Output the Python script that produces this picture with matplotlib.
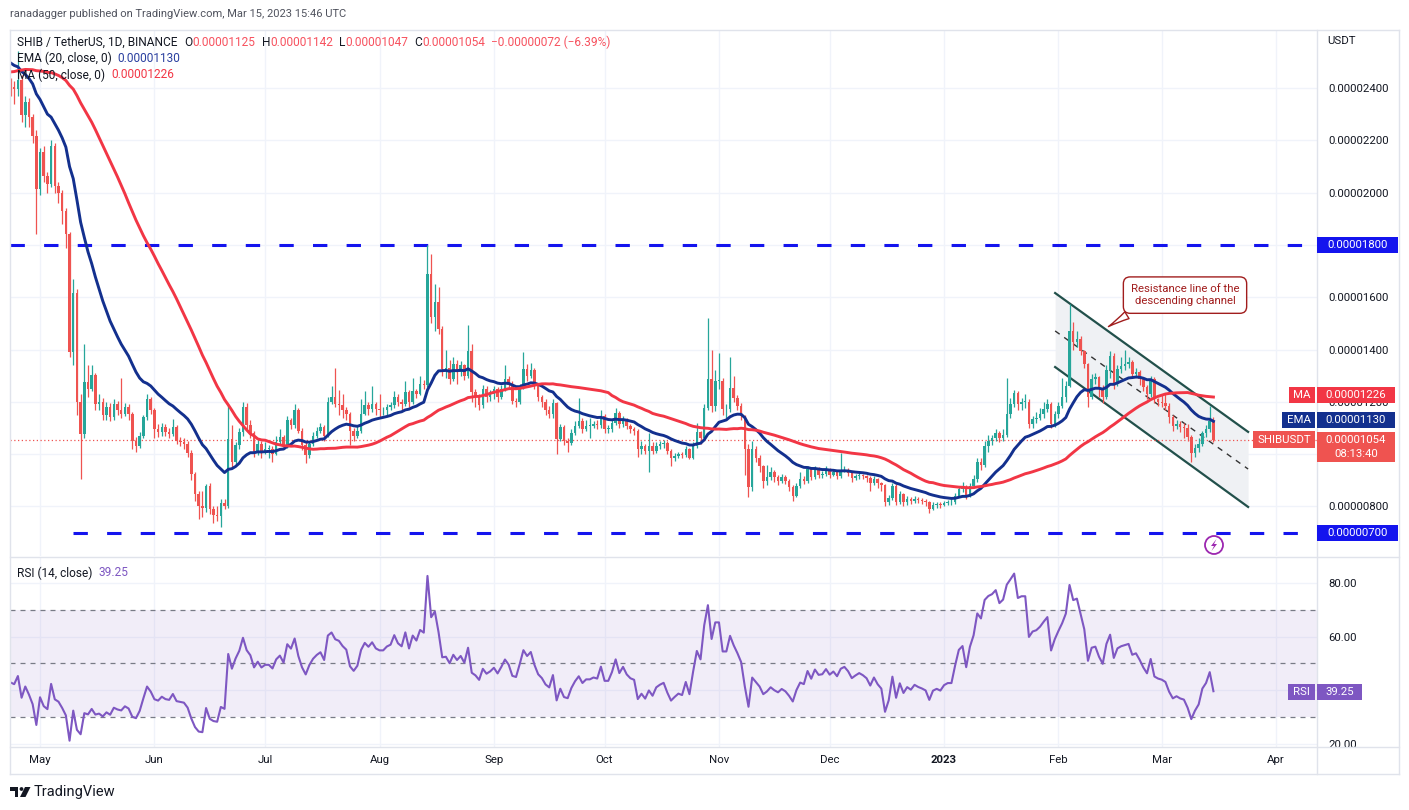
import numpy as np
import matplotlib
matplotlib.use("Agg")
from matplotlib import pyplot as plt
from matplotlib.patches import Rectangle, Polygon, Circle
from matplotlib.lines import Line2D
from matplotlib.transforms import IdentityTransform

plt.rcParams['font.family'] = ['Roboto', 'DejaVu Sans']

W, H = 1409, 810
UNIT = 1e-8  # prices are kept in units of 0.00000001 USDT

start_date = np.datetime64('2022-04-23')
first_open = 2420

# closes before the visible window, only used to warm up EMA / MA / RSI
warmup_closes = [2300, 2330, 2250, 2190, 2220, 2320, 2240, 2200, 2210, 2150,
                 2220, 2210, 2280, 2300, 2350, 2380, 2330, 2330, 2420, 2480,
                 2500, 2500, 2520, 2620, 2700, 2680, 2660, 2650, 2700, 2680,
                 2750, 2800, 2880, 2700, 2690, 2580, 2600, 2560, 2400, 2450,
                 2500, 2420, 2450, 2440, 2400, 2450, 2550, 2520, 2480, 2430]

closes = [
    2405, 2395, 2430, 2295, 2345, 2290, 2218, 2013,
    2154, 2064, 2032, 2180, 2026, 2000, 1930, 1840, 1391, 1615, 1199, 1077, 1276, 1250, 1301,
    1192, 1200, 1148, 1180, 1141, 1192, 1167, 1154, 1180, 1154, 1051, 1032, 1071, 1141, 1212, 1167,
    1096, 1083, 1103, 1083, 1077, 1103, 1051, 1045, 1040, 1006, 923, 846, 801, 795, 878,
    789, 769, 763, 814, 801, 1058, 969, 1033, 1084, 1180, 1110, 1080, 1005, 1040, 1005,
    1020, 1020, 1001, 1046, 1065, 1033, 1129, 1110, 1167, 1090, 1033, 995, 1040, 1071, 1090,
    1103, 1071, 1199, 1218, 1192, 1186, 1167, 1154, 1090, 1071, 1090, 1154, 1186, 1173, 1192, 1173,
    1167, 1167, 1180, 1186, 1218, 1199, 1192, 1237, 1199, 1243, 1231, 1269, 1263, 1689, 1524,
    1581, 1479, 1326, 1330, 1288, 1345, 1313, 1339, 1300, 1396, 1237, 1218, 1186, 1250, 1218, 1231,
    1250, 1218, 1250, 1288, 1263, 1205, 1199, 1256, 1326, 1300, 1320, 1263, 1218, 1199, 1167,
    1152, 1197, 1057, 1103, 1051, 1044, 1082, 1108, 1127, 1095, 1108, 1108, 1114, 1110, 1146,
    1095, 1095, 1120, 1159, 1114, 1133, 1108, 1095, 1090, 1019, 1032, 1013, 1032, 1013, 1032,
    1038, 1042, 1013, 987, 994, 1000, 996, 1019, 987, 1032, 1083, 1063, 1178, 1286, 1184, 1280,
    1280, 1171, 1171, 1254, 1216, 1184, 1146, 1019, 873, 1019, 987, 955, 898, 911, 930,
    911, 898, 911, 898, 873, 841, 879, 905, 898, 943, 911, 943, 922, 924, 940,
    921, 930, 915, 935, 940, 928, 909, 915, 920, 915, 908, 891, 905, 890, 880,
    815, 834, 879, 815, 847, 815, 828, 820, 830, 824, 820, 815, 790, 805, 808, 804,
    812, 815, 815, 840, 866, 873, 840, 878, 904, 968, 960, 1032, 1051, 1060, 1080,
    1060, 1075, 1153, 1190, 1235, 1190, 1200, 1200, 1114, 1135, 1140, 1153, 1172, 1190, 1114, 1153,
    1185, 1217, 1262, 1472, 1428, 1440, 1395, 1345, 1217, 1287, 1293, 1249, 1217, 1320,
    1377, 1268, 1325, 1338, 1345, 1351, 1306, 1313, 1287, 1255, 1230, 1287, 1210, 1200,
    1195, 1185, 1141, 1109, 1115, 1105, 1100, 1064, 1005, 1025, 1040, 1080, 1095, 1125, 1054,
]

highs = [
    2440, 2425, 2540, 2450, 2370, 2360, 2300, 2240,
    2170, 2180, 2080, 2200, 2190, 2040, 2010, 1940, 1850, 1670, 1630, 1230, 1420, 1340, 1340,
    1310, 1230, 1215, 1200, 1195, 1210, 1205, 1290, 1195, 1190, 1160, 1065, 1085, 1150, 1230, 1220,
    1175, 1115, 1120, 1115, 1100, 1135, 1110, 1065, 1060, 1050, 1015, 930, 860, 860, 885,
    890, 800, 800, 830, 830, 1190, 1110, 1045, 1100, 1200, 1195, 1130, 1090, 1055, 1050,
    1045, 1035, 1030, 1070, 1095, 1075, 1145, 1140, 1190, 1175, 1100, 1045, 1050, 1085, 1105,
    1120, 1110, 1220, 1260, 1330, 1245, 1230, 1180, 1160, 1100, 1110, 1210, 1240, 1200, 1260, 1200,
    1230, 1180, 1190, 1200, 1240, 1230, 1210, 1280, 1245, 1290, 1250, 1300, 1285, 1800, 1765,
    1650, 1640, 1490, 1400, 1360, 1370, 1360, 1355, 1345, 1495, 1420, 1250, 1230, 1265, 1260, 1245,
    1260, 1255, 1265, 1340, 1300, 1280, 1215, 1270, 1390, 1345, 1350, 1330, 1270, 1225, 1210,
    1185, 1210, 1200, 1115, 1110, 1060, 1095, 1125, 1215, 1140, 1130, 1140, 1125, 1130, 1170,
    1155, 1110, 1135, 1175, 1165, 1145, 1140, 1115, 1105, 1095, 1050, 1040, 1080, 1045, 1045,
    1050, 1055, 1050, 1020, 1005, 1010, 1008, 1030, 1025, 1045, 1120, 1090, 1190, 1520, 1400, 1320,
    1385, 1290, 1190, 1370, 1300, 1225, 1195, 1150, 1040, 1050, 1030, 995, 960, 960, 950,
    940, 920, 925, 920, 905, 880, 890, 930, 915, 955, 950, 955, 950, 935, 955,
    945, 940, 935, 1005, 955, 945, 935, 925, 930, 925, 920, 915, 915, 910, 895,
    885, 845, 890, 885, 860, 850, 840, 835, 840, 836, 832, 828, 820, 815, 815, 815,
    820, 825, 830, 850, 875, 895, 880, 890, 920, 985, 985, 1050, 1075, 1075, 1095,
    1090, 1095, 1290, 1215, 1245, 1240, 1215, 1230, 1210, 1145, 1160, 1175, 1200, 1210, 1200, 1165,
    1200, 1290, 1280, 1575, 1505, 1470, 1450, 1400, 1350, 1305, 1310, 1300, 1265, 1340,
    1395, 1385, 1340, 1370, 1400, 1370, 1360, 1330, 1320, 1295, 1265, 1300, 1295, 1215,
    1225, 1230, 1195, 1150, 1130, 1125, 1120, 1115, 1075, 1040, 1060, 1090, 1110, 1185, 1142,
]

lows = [
    2370, 2340, 2370, 2270, 2250, 2250, 2190, 1840,
    1990, 2040, 2000, 2020, 2000, 1960, 1880, 1790, 1370, 1340, 1150, 904, 1060, 1220, 1240,
    1170, 1170, 1130, 1130, 1125, 1130, 1150, 1140, 1145, 1130, 1020, 1010, 1025, 1060, 1130, 1155,
    1060, 1065, 1070, 1070, 1060, 1070, 1040, 1030, 1020, 990, 900, 820, 750, 760, 780,
    770, 735, 745, 720, 790, 795, 950, 960, 1020, 1070, 1095, 1060, 990, 995, 985,
    1000, 985, 970, 995, 1040, 1020, 1025, 1095, 1100, 1080, 1015, 965, 985, 1030, 1060,
    1080, 1050, 1065, 1190, 1180, 1150, 1140, 1130, 1035, 1050, 1060, 1080, 1150, 1150, 1160, 1150,
    1140, 1150, 1150, 1170, 1175, 1185, 1170, 1185, 1180, 1190, 1215, 1225, 1250, 1255, 1500,
    1470, 1460, 1300, 1290, 1270, 1280, 1270, 1300, 1285, 1290, 1200, 1180, 1170, 1175, 1200, 1205,
    1210, 1200, 1210, 1240, 1250, 1190, 1180, 1190, 1250, 1280, 1290, 1250, 1205, 1180, 1150,
    1140, 1140, 1000, 1050, 1035, 1010, 1035, 1075, 1100, 1080, 1090, 1060, 1100, 1095, 1100,
    1080, 1080, 1085, 1110, 1100, 1105, 1095, 1080, 1075, 990, 1000, 1000, 930, 1000, 1005,
    1020, 1025, 1000, 955, 975, 985, 985, 990, 980, 980, 1025, 1040, 1055, 1170, 1160, 1165,
    1250, 1150, 1140, 1160, 1200, 1170, 1130, 920, 835, 860, 970, 930, 870, 880, 900,
    895, 880, 890, 885, 860, 820, 835, 870, 885, 890, 900, 905, 910, 910, 915,
    910, 915, 905, 910, 930, 915, 895, 900, 905, 905, 895, 860, 880, 870, 860,
    800, 805, 825, 805, 810, 800, 805, 810, 812, 812, 808, 800, 775, 785, 795, 795,
    800, 805, 805, 810, 835, 855, 830, 835, 870, 895, 940, 950, 1010, 1035, 1050,
    1045, 1050, 1065, 1140, 1180, 1170, 1170, 1175, 1100, 1100, 1120, 1130, 1140, 1160, 1100, 1105,
    1140, 1175, 1200, 1255, 1400, 1410, 1380, 1330, 1180, 1210, 1270, 1220, 1195, 1210,
    1290, 1250, 1260, 1310, 1320, 1330, 1290, 1295, 1265, 1240, 1210, 1220, 1195, 1185,
    1180, 1170, 1120, 1090, 1095, 1085, 1060, 1050, 968, 990, 1010, 1030, 1065, 1085, 1047,
]

month_names = ['May', 'Jun', 'Jul', 'Aug', 'Sep', 'Oct', 'Nov', 'Dec', '2023', 'Feb', 'Mar', 'Apr']
month_firsts = np.array(['2022-05-01', '2022-06-01', '2022-07-01', '2022-08-01', '2022-09-01',
                         '2022-10-01', '2022-11-01', '2022-12-01', '2023-01-01', '2023-02-01',
                         '2023-03-01', '2023-04-01'], dtype='datetime64[D]')

price_ticks = [800, 1000, 1200, 1400, 1600, 1800, 2000, 2200, 2400]
hidden_price_labels = [1000, 1800]   # covered by tags on the price scale
rsi_ticks = [20, 40, 60, 80]
support_level = 700
resistance_level = 1800
ema_last, ma_last, rsi_last = 1130, 1226, 39.25

# descending channel drawn on the chart: (day index, price)
channel_days = [283.1, 335.4]
channel_upper = [1616, 1085]
channel_mid = [1471, 943]
channel_lower = [1333, 798]

UP, DOWN = '#26a69a', '#ef5350'
EMA_C, MA_C = '#13308e', '#f23645'
BLUE, RSI_C = '#1414ee', '#7e57c2'
TEXT, GRID, BORDER = '#131722', '#f0f3fa', '#e0e3eb'
NOTE_C = '#a11d1d'


def ema(x, n):
    a = 2.0 / (n + 1)
    out = np.empty_like(x)
    out[0] = x[0]
    for i in range(1, len(x)):
        out[i] = a * x[i] + (1 - a) * out[i - 1]
    return out


def sma(x, n):
    out = np.full(len(x), np.nan)
    out[n - 1:] = np.convolve(x, np.ones(n) / n, mode='valid')
    return out


def rsi(x, n=14):
    diff = np.diff(x)
    gain = np.clip(diff, 0, None)
    loss = np.clip(-diff, 0, None)
    ag, al = gain[:n].mean(), loss[:n].mean()
    out = np.full(len(x), np.nan)
    out[n] = 100 - 100 / (1 + ag / al)
    for i in range(n, len(diff)):
        ag = (ag * (n - 1) + gain[i]) / n
        al = (al * (n - 1) + loss[i]) / n
        out[i + 1] = 100 - 100 / (1 + ag / al)
    return out


allc = np.array(warmup_closes + closes, float)
n0 = len(warmup_closes)
ema20 = ema(allc, 20)[n0:]
ma50 = sma(allc, 50)[n0:]
rsi14 = rsi(allc, 14)[n0:]

c = np.array(closes, float)
o = np.r_[first_open, c[:-1]]
hi = np.array(highs, float)
lo = np.array(lows, float)
days = np.arange(len(c))
cols = np.where(c >= o, UP, DOWN)
month_pos = (month_firsts - start_date).astype(int)


def rect(l, t, r, b):
    return [l / W, 1 - b / H, (r - l) / W, (b - t) / H]


fig = plt.figure(figsize=(W / 100, H / 100), dpi=100)
ax = fig.add_axes(rect(10, 30, 1317, 556))
axr = fig.add_axes(rect(10, 557, 1317, 747))
ID = IdentityTransform()

x_left, x_right = -0.14, 354.07
for a in (ax, axr):
    a.set_xlim(x_left, x_right)
    a.set_xticks(month_pos)
    a.grid(True, color=GRID, lw=1)
    a.set_axisbelow(True)
    for s in a.spines.values():
        s.set_visible(False)
    a.yaxis.tick_right()
    a.tick_params(axis='both', length=0, labelsize=8.2, colors=TEXT)
ax.tick_params(axis='x', labelbottom=False)
ax.set_ylim(610.4, 2621.8)
ax.set_yticks(price_ticks)
ax.set_yticklabels(['' if v in hidden_price_labels else '%.8f' % (v * UNIT) for v in price_ticks])
ax.tick_params(axis='y', pad=7.9)

axr.set_ylim(18.8, 89.7)
axr.set_yticks(rsi_ticks)
axr.set_yticklabels(['' if v == 40 else '%.2f' % v for v in rsi_ticks])
axr.tick_params(axis='y', pad=7.9)
axr.set_xticklabels(month_names)
axr.tick_params(axis='x', pad=6)
axr.get_xticklabels()[8].set_fontweight('bold')

# channel
ax.fill_between(channel_days, channel_lower, channel_upper, color='#eff1f4', lw=0, zorder=1)
ax.plot(channel_days, channel_upper, color='#22504b', lw=1.6, zorder=2)
ax.plot(channel_days, channel_lower, color='#22504b', lw=1.6, zorder=2)
ax.plot(channel_days, channel_mid, color='#333333', lw=1.0, ls=(0, (4, 4)), zorder=2)

# horizontal levels
ax.hlines(resistance_level, x_left, x_right, colors=BLUE, lw=2.2, linestyles=[(0, (4.7, 6.3))], zorder=2)
ax.hlines(support_level, 16.8, x_right, colors=BLUE, lw=2.2, linestyles=[(0, (4.7, 6.3))], zorder=2)
ax.axhline(closes[-1], color=DOWN, lw=0.9, ls=(0, (1, 2)), zorder=2)

# candles
ax.vlines(days, lo, hi, colors=cols, lw=0.9, zorder=3)
ax.bar(days, np.maximum(np.abs(c - o), 3), bottom=np.minimum(o, c), width=0.68,
       color=cols, lw=0, zorder=3)

ax.plot(days, ema20, color=EMA_C, lw=2.1, zorder=4)
ax.plot(days, ma50, color=MA_C, lw=2.1, zorder=4)

# annotation
ax.annotate("Resistance line of the\ndescending channel", xy=(296.9, 1482), xytext=(318.3, 1608),
            ha='center', va='center', fontsize=8.2, color=NOTE_C, zorder=6,
            bbox=dict(boxstyle='round,pad=0.65,rounding_size=0.6', fc='white', ec=NOTE_C, lw=1),
            arrowprops=dict(arrowstyle='wedge,tail_width=0.7,shrink_factor=0.4', fc='white',
                            ec=NOTE_C, lw=1, relpos=(0.12, 0.05)))

# RSI pane
axr.axhspan(30, 70, color=RSI_C, alpha=0.1, lw=0)
for v in (70, 50, 30):
    axr.axhline(v, color='#787b86', lw=0.9, ls=(0, (4, 4)))
axr.plot(days, rsi14, color=RSI_C, lw=1.5)


# ---------- overlays in pixel coordinates (origin top-left) ----------
def fy(y):
    return H - y


def hline(x0, x1, y, col=BORDER, lw=1):
    fig.add_artist(Line2D([x0, x1], [fy(y), fy(y)], transform=ID, color=col, lw=lw))


def vline(x, y0, y1, col=BORDER, lw=1):
    fig.add_artist(Line2D([x, x], [fy(y0), fy(y1)], transform=ID, color=col, lw=lw))


hline(10, 1399, 30)
hline(10, 1399, 556.5)
hline(10, 1399, 747)
hline(10, 1399, 774)
vline(10, 30, 774)
vline(1317, 30, 774)
vline(1399, 30, 774)


def ptext(x, y, s, col=TEXT, fs=8.2, **kw):
    return fig.text(x, fy(y), s, transform=ID, color=col, fontsize=fs, va='center', **kw)


def text_run(x, y, parts, fs=8.6):
    r = fig.canvas.get_renderer()
    for s, col, gap in parts:
        t = ptext(x, y, s, col, fs, ha='left')
        x = t.get_window_extent(r).x1 + gap


def val_y(a, v):
    return H - a.transData.transform((0, v))[1]


def box(x0, x1, yc, h, fc, up=None):
    top = yc - h / 2 if up is None else yc - up
    fig.add_artist(Rectangle((x0, fy(top + h)), x1 - x0, h, transform=ID, fc=fc, ec='none', zorder=10))


def tag(a, v, name, name_x0, val_x1, fc, value_text):
    y = val_y(a, v)
    if name:
        box(name_x0, 1315, y, 16, fc)
        ptext((name_x0 + 1315) / 2, y, name, 'white', ha='center', zorder=11)
    box(1317, val_x1, y, 16, fc)
    ptext((1317 + val_x1) / 2, y, value_text, 'white', ha='center', zorder=11)


tag(ax, resistance_level, None, 0, 1398, BLUE, '%.8f' % (resistance_level * UNIT))
tag(ax, support_level, None, 0, 1398, BLUE, '%.8f' % (support_level * UNIT))
tag(ax, ma_last, 'MA', 1289, 1395, MA_C, '%.8f' % (ma_last * UNIT))
tag(ax, ema_last, 'EMA', 1282, 1395, EMA_C, '%.8f' % (ema_last * UNIT))
yl = val_y(ax, closes[-1])
box(1253, 1315, yl, 17, DOWN)
ptext(1284, yl, 'SHIBUSDT', 'white', ha='center', zorder=11)
box(1317, 1395, yl, 30, DOWN, up=8)
ptext(1356, yl, '%.8f' % (closes[-1] * UNIT), 'white', ha='center', zorder=11)
ptext(1356, yl + 14, '08:13:40', 'white', ha='center', zorder=11)
tag(axr, rsi_last, 'RSI', 1288, 1362, RSI_C, '%.2f' % rsi_last)

ptext(1327, 41, 'USDT')

# headers
RED = '#f7525f'
ptext(10, 14, 'ranadagger published on TradingView.com, Mar 15, 2023 15:46 UTC', '#50535e', 8.0, ha='left')
text_run(17, 42, [('SHIB / TetherUS, 1D, BINANCE', TEXT, 7),
                  ('O', TEXT, 0), ('%.8f' % (closes[-2] * UNIT), RED, 6),
                  ('H', TEXT, 0), ('%.8f' % (highs[-1] * UNIT), RED, 6),
                  ('L', TEXT, 0), ('%.8f' % (lows[-1] * UNIT), RED, 6),
                  ('C', TEXT, 0), ('%.8f' % (closes[-1] * UNIT), RED, 6),
                  ('\u22120.00000072 (\u22126.39%)', RED, 0)])
text_run(17, 58, [('EMA (20, close, 0)', TEXT, 6), ('%.8f' % (ema_last * UNIT), '#2a3f9f', 0)])
text_run(17, 75, [('MA (50, close, 0)', TEXT, 6), ('%.8f' % (ma_last * UNIT), MA_C, 0)])
text_run(17, 573, [('RSI (14, close)', TEXT, 6), ('%.2f' % rsi_last, RSI_C, 0)])

# replay / lightning icon
fig.add_artist(Circle((1214, fy(545)), 9, transform=ID, fc='white', ec='#9c27b0', lw=1.3, zorder=10))
bolt = [(2.5, -6), (-3, 1), (0, 1), (-2.5, 6), (3, -1), (0, -1)]
fig.add_artist(Polygon([(1214 + dx, fy(545 + dy)) for dx, dy in bolt], closed=True,
                       transform=ID, fc='#9c27b0', ec='none', zorder=11))

# TradingView logo
fig.add_artist(Rectangle((10, fy(790.5)), 8, 3.5, transform=ID, fc=TEXT, ec='none'))
fig.add_artist(Rectangle((14.5, fy(797)), 3.5, 10, transform=ID, fc=TEXT, ec='none'))
fig.add_artist(Circle((21.5, fy(789)), 1.9, transform=ID, fc=TEXT, ec='none'))
fig.add_artist(Polygon([(25, fy(787)), (30.5, fy(787)), (25.5, fy(797)), (20, fy(797))],
                       closed=True, transform=ID, fc=TEXT, ec='none'))
ptext(34, 792, 'TradingView', TEXT, 10.5, ha='left')

fig.savefig('out.png', dpi=100, facecolor='white')
